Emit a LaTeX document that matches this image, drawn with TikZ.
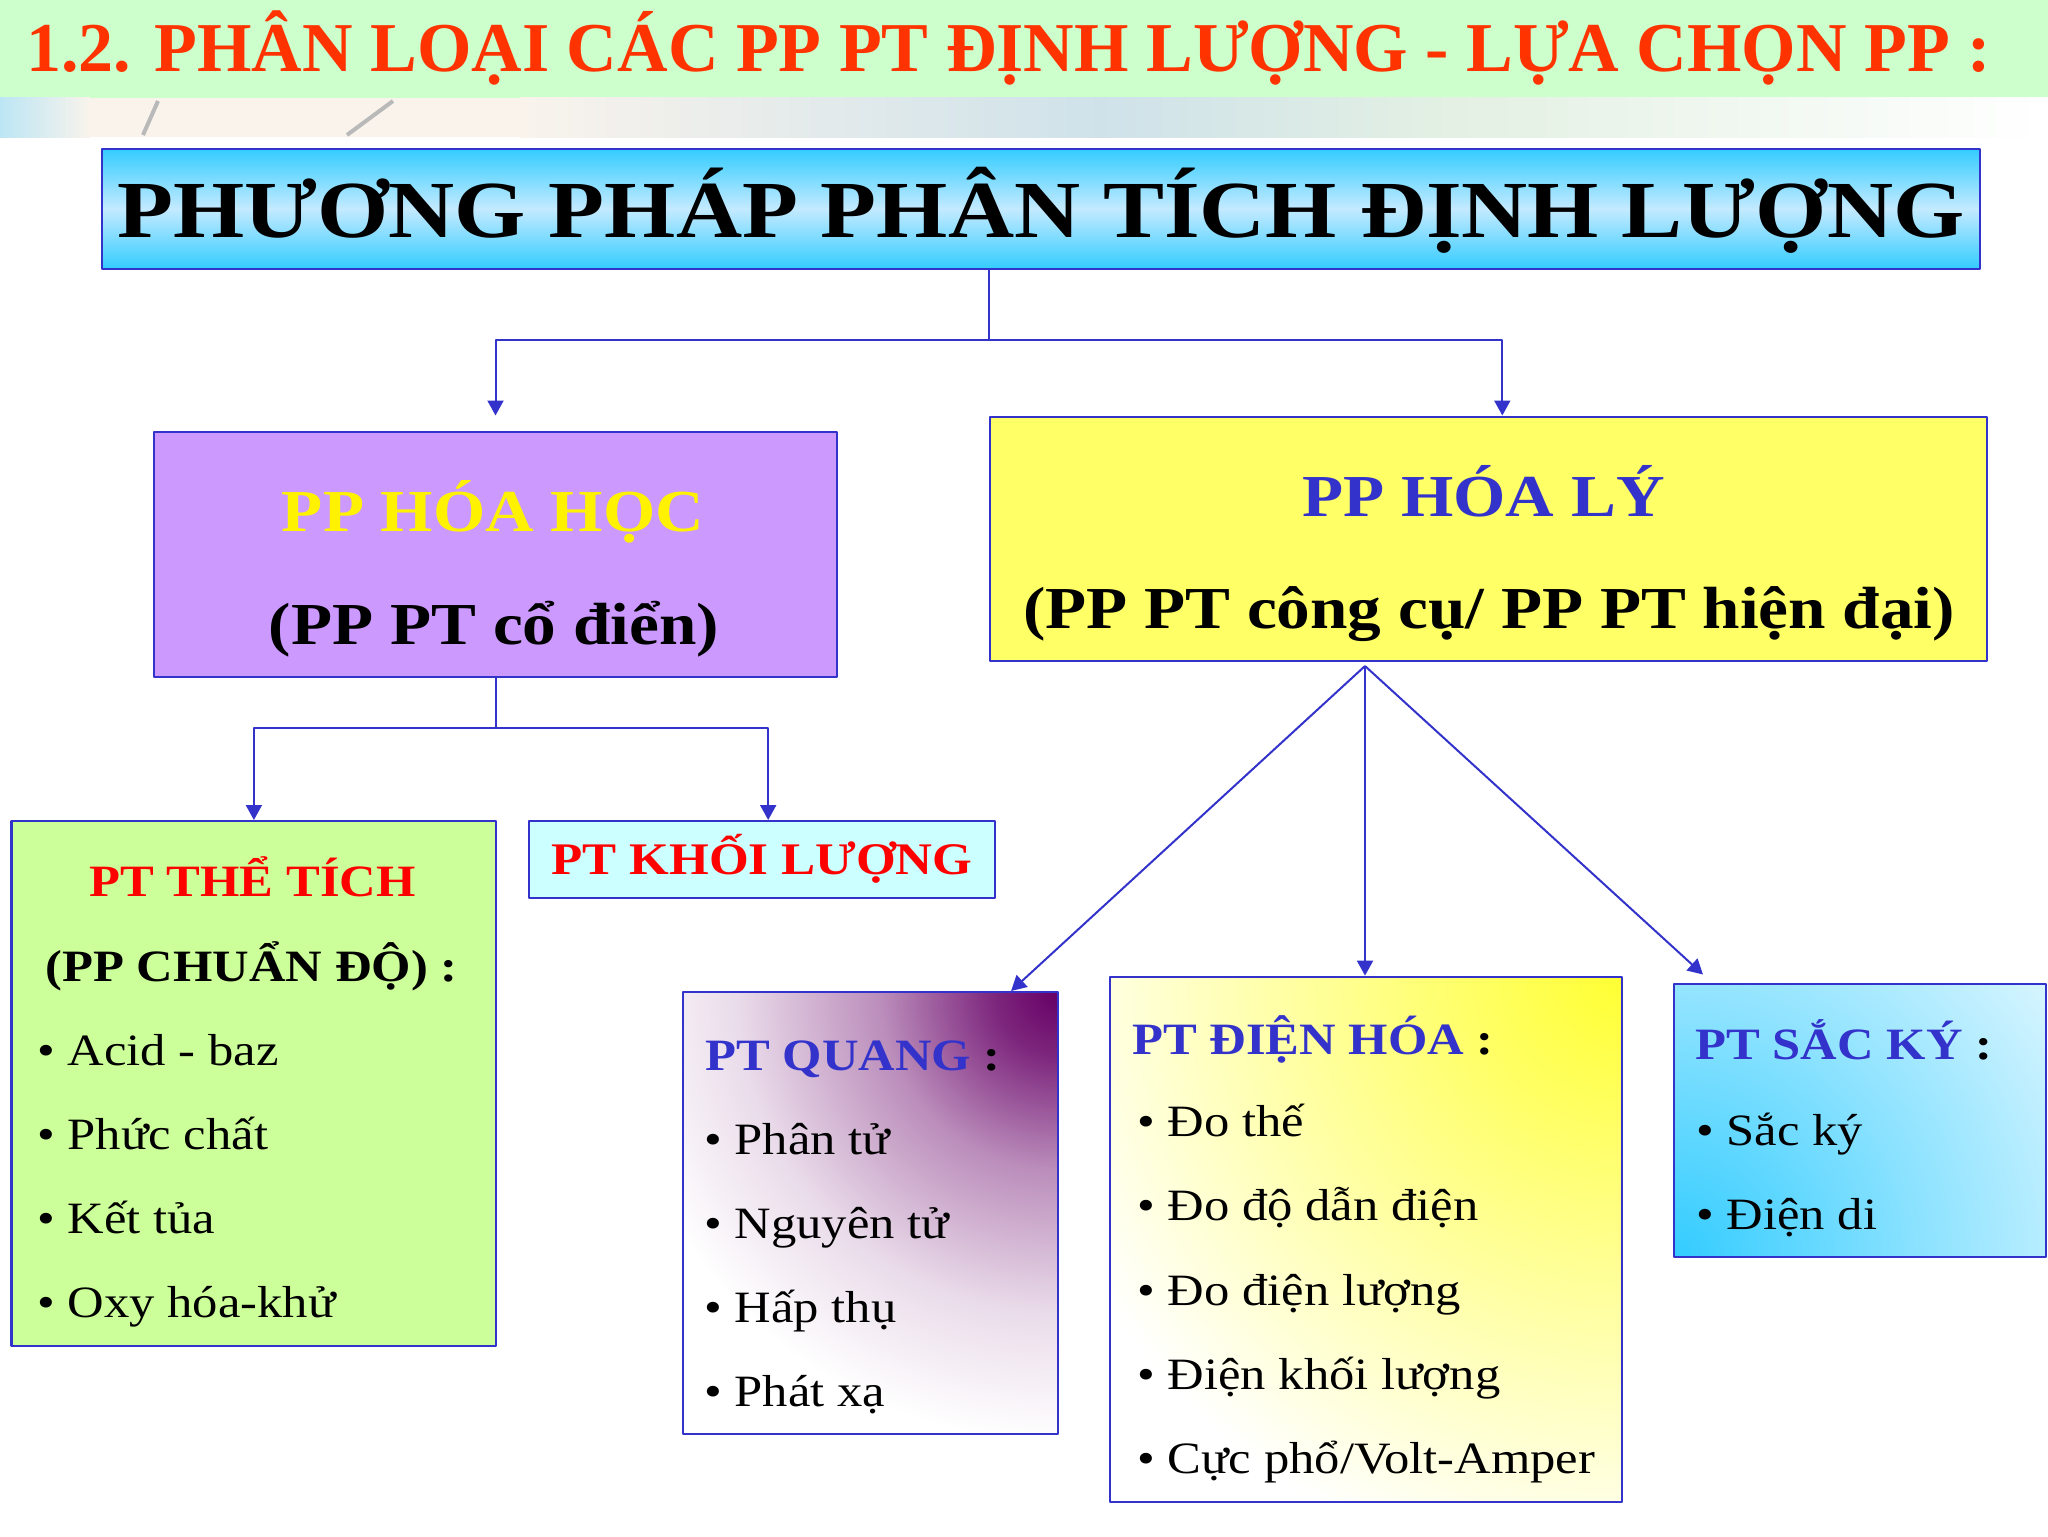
\documentclass[tikz,border=0pt]{standalone}
\usepackage{fontspec}
\setmainfont{Liberation Serif}
\newfontfamily\wideserif{Liberation Serif}[FakeStretch=1.13]
\usetikzlibrary{arrows.meta,calc}
\definecolor{edgeblue}{HTML}{3333CC}
\definecolor{titlered}{HTML}{FF3300}
\definecolor{bargreen}{HTML}{CCFFCC}
\definecolor{skycyan}{HTML}{33CCFF}
\definecolor{skylight}{HTML}{C4EAFF}
\definecolor{lilac}{HTML}{CC99FF}
\definecolor{lemon}{HTML}{FFFF66}
\definecolor{limegreen}{HTML}{CCFF99}
\definecolor{icecyan}{HTML}{CCFFFF}
\definecolor{quangplum}{HTML}{660066}
\definecolor{sunyellow}{HTML}{FFFF33}
\definecolor{stripcyan}{HTML}{BCE6F4}
\definecolor{stripsand}{HTML}{F9F3EC}
\definecolor{stripblue}{HTML}{CFE2EA}
\definecolor{stripmint}{HTML}{E3F0E3}
\pgfdeclareradialshading{plumglow}{\pgfpoint{0bp}{0bp}}{color(0bp)=(quangplum); color(2bp)=(quangplum!85!white); color(5.5bp)=(quangplum!45!white); color(10bp)=(quangplum!14!white); color(14bp)=(white); color(50bp)=(white)}
\pgfdeclareradialshading{sunglow}{\pgfpoint{0bp}{0bp}}{color(0bp)=(sunyellow); color(19bp)=(white); color(50bp)=(white)}
\pgfdeclareradialshading{skyglow}{\pgfpoint{0bp}{0bp}}{color(0bp)=(skycyan); color(8bp)=(skycyan!55!white); color(18bp)=(white); color(50bp)=(white)}
\tikzset{
  box/.style={draw=edgeblue, line width=1.2pt, inner sep=0pt, anchor=north west},
  link/.style={draw=edgeblue, line width=1pt},
  boxtext/.style={anchor=base, inner sep=0pt, font=\wideserif\bfseries\fontsize{29.75}{34}\selectfont},
  item/.style={anchor=base west, inner sep=0pt, font=\wideserif\fontsize{22.4}{26}\selectfont},
  head/.style={item, font=\wideserif\bfseries\fontsize{22.4}{26}\selectfont},
}
\begin{document}
\begin{tikzpicture}[x=0.5pt, y=-0.5pt, >={Triangle[width=8pt,length=7.5pt]}, line join=round]
\useasboundingbox (0,0) rectangle (2048,1536);
% title bar
\fill[bargreen] (0,0) rectangle (2048,98);
\shade[left color=stripcyan, right color=stripsand] (0,98) rectangle (90,137);
\fill[stripsand] (89,98) rectangle (521,137);
\shade[left color=stripsand, right color=stripblue] (520,98) rectangle (1100,137);
\shade[left color=stripblue, right color=stripmint] (1099,98) rectangle (1450,137);
\shade[left color=stripmint, right color=white] (1449,98) rectangle (2048,137);
\draw[gray!55, line width=2pt] (158,101) -- (143,135);
\draw[gray!55, line width=2pt] (393,101) -- (347,135);
\node[anchor=base west, inner sep=0pt, text=titlered, font=\bfseries\fontsize{35}{40}\selectfont] (title) at (26,72) {1.2. PHÂN LOẠI CÁC PP PT ĐỊNH LƯỢNG - LỰA CHỌN PP :};

% boxes
\node[box, minimum width=939pt, minimum height=60pt, top color=skycyan, bottom color=skycyan, middle color=skylight] (main) at (100.6,147.6) {};
\node[box, fill=lilac, minimum width=341.5pt, minimum height=122.5pt] (hoahoc) at (152.8,431) {};
\node[box, fill=lemon, minimum width=498.5pt, minimum height=122.25pt] (hoaly) at (988.6,415.5) {};
\node[box, fill=limegreen, minimum width=242.3pt, minimum height=262.5pt] (thetich) at (10.4,820) {};
\node[box, fill=icecyan, minimum width=233pt, minimum height=38.5pt] (khoi) at (528,820) {};
\node[box, minimum width=187.5pt, minimum height=220.8pt,
  path picture={\shade[shading=plumglow] (path picture bounding box.north east) circle (400pt);}] (quang) at (681.7,991) {};
\node[box, minimum width=256pt, minimum height=262.5pt,
  path picture={\shade[shading=sunglow] (path picture bounding box.north east) circle (400pt);}] (dienhoa) at (1108.8,975.6) {};
\node[box, minimum width=186pt, minimum height=136.5pt,
  path picture={\shade[shading=skyglow] (path picture bounding box.south west) circle (400pt);}] (sacky) at (1673,982.5) {};

% texts
\node[boxtext, font=\wideserif\bfseries\fontsize{40.5}{45}\selectfont] (maintext) at (1041,237) {PHƯƠNG PHÁP PHÂN TÍCH ĐỊNH LƯỢNG};
\node[boxtext, text=yellow] (hhname) at (493,531) {PP HÓA HỌC};
\node[boxtext] (hhnote) at (494,644) {(PP PT cổ điển)};
\node[boxtext, text=edgeblue] (hlname) at (1483.5,516.7) {PP HÓA LÝ};
\node[boxtext] (hlnote) at (1489,628.3) {(PP PT công cụ/ PP PT hiện đại)};
\node[boxtext, text=red, font=\wideserif\bfseries\fontsize{22.6}{28}\selectfont] (khoitext) at (762,874) {PT KHỐI LƯỢNG};

\node[head, anchor=base, text=red] (tthead) at (252.7,896.6) {PT THỂ TÍCH};
\node[head, anchor=base] (ttnote) at (251.5,981.4) {(PP CHUẨN ĐỘ) :};
\foreach \entry [count=\i] in {Acid - baz, Phức chất, Kết tủa, Oxy hóa-khử}
  \node[item] (tt\i) at (37,{1065+84*(\i-1)}) {• \entry};

\node[head] (qhead) at (705,1070) {\textcolor{edgeblue}{PT QUANG} :};
\foreach \entry [count=\i] in {Phân tử, Nguyên tử, Hấp thụ, Phát xạ}
  \node[item] (qu\i) at (704,{1154+84.2*(\i-1)}) {• \entry};

\node[head] (dhead) at (1132,1054.4) {\textcolor{edgeblue}{PT ĐIỆN HÓA} :};
\foreach \entry [count=\i] in {Đo thế, Đo độ dẫn điện, Đo điện lượng, Điện khối lượng, Cực phổ/Volt-Amper}
  \node[item] (dh\i) at (1137,{1136.6+84.2*(\i-1)}) {• \entry};

\node[head] (shead) at (1695,1059.6) {\textcolor{edgeblue}{PT SẮC KÝ} :};
\foreach \entry [count=\i] in {Sắc ký, Điện di}
  \node[item] (sk\i) at (1696,{1145+84*(\i-1)}) {• \entry};

% connectors
\draw[link] (main.south -| hoaly.west) -- +(0,70) coordinate (mid1);
\draw[link,->] (mid1) -| (hoahoc.north |- hoaly.north);
\draw[link,->] (mid1) -| ($(hoaly.north)+(14,0)$);
\draw[link] (hoahoc.south) -- +(0,50) coordinate (mid2);
\draw[link,->] (mid2) -| (thetich.north);
\draw[link,->] (mid2) -| ($(khoi.north)+(6,0)$);
\coordinate (apex) at (1365,666);
\draw[link,->] (apex) -- ($(quang.north east)+(-48,0)$);
\draw[link,->] (apex) -- (apex |- dienhoa.north);
\draw[link,->] (apex) -- ($(sacky.north west)+(30,-8)$);
\end{tikzpicture}
\end{document}
